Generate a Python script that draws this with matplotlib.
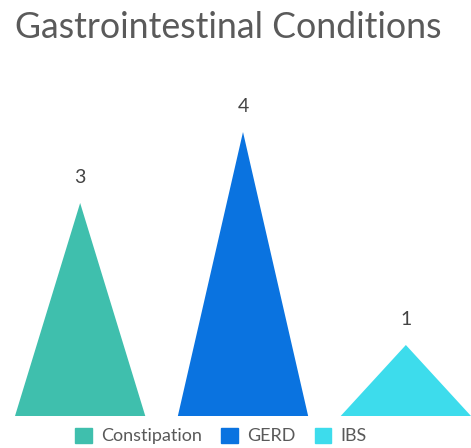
import matplotlib.pyplot as plt
from matplotlib.patches import Patch

# Dados
categorias = ['Constipation', 'GERD', 'IBS']
valores = [3, 4, 1]
cores = ['#3FBFAD', '#0A73E0', '#3DDCEC']

plt.rcParams['font.family'] = ['Lato', 'DejaVu Sans']

fig = plt.figure(figsize=(4.71, 4.48), dpi=100)
ax = fig.add_axes([15 / 471, 32 / 448, 456 / 471, 356 / 448])

# Triângulos (pirâmides)
largura = 0.8
for i, (v, c) in enumerate(zip(valores, cores)):
    ax.fill([i - largura / 2, i, i + largura / 2], [0, v, 0], color=c, linewidth=0)
    ax.annotate(str(v), (i, v), xytext=(0, 12), textcoords='offset points',
                ha='center', va='bottom', fontsize=14, color='#444444')

ax.set_xlim(-0.4, 2.4)
ax.set_ylim(0, 356 / 71)
ax.axis('off')

fig.text(15 / 471, 1 - 38 / 448, 'Gastrointestinal Conditions', fontsize=25.7,
         color='#5a5a5a', ha='left', va='baseline')

handles = [Patch(color=c, label=n) for n, c in zip(categorias, cores)]
fig.legend(handles=handles, loc='center', bbox_to_anchor=(221 / 471, 1 - 436 / 448),
           ncol=3, frameon=False, fontsize=13, handlelength=0.9, handleheight=0.9,
           handletextpad=0.5, columnspacing=1.1, labelcolor='#595959')

fig.savefig('out.png', dpi=100)
